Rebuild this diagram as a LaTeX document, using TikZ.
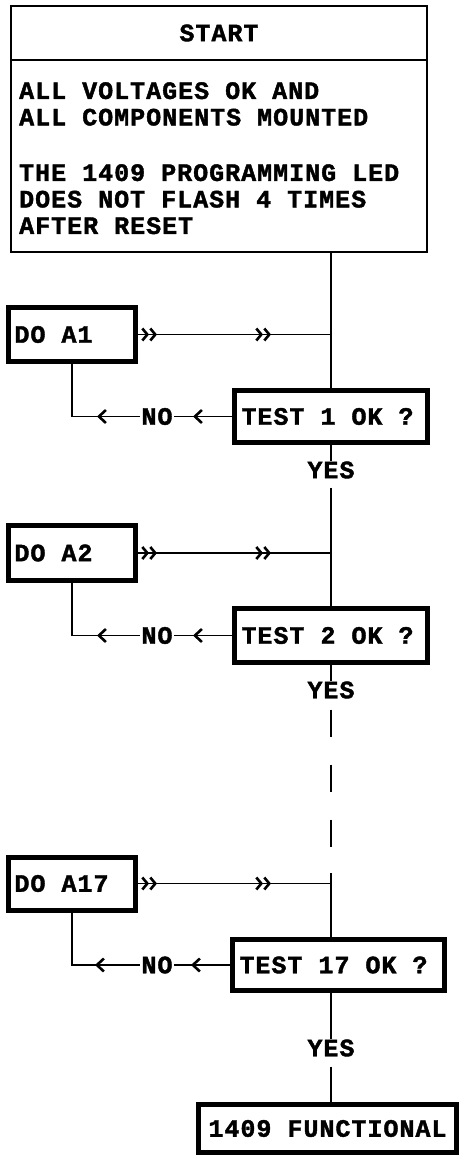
\documentclass[tikz,border=0pt]{standalone}
\usepackage{fontspec}
\setmainfont{Liberation Mono}[LetterSpace=4, BoldFeatures={FakeBold=1.6}]
\usetikzlibrary{arrows.meta,decorations.markings}
\tikzset{
  dchev/.tip={Straight Barb[length=5bp,width=12bp,line width=2.6bp] Straight Barb[length=5bp,width=12bp,line width=2.6bp]},
  schev/.tip={Straight Barb[length=7bp,width=13bp,line width=2.6bp]},
  lbl/.style={font=\fontsize{25bp}{26.5bp}\selectfont\bfseries, inner sep=0pt},
  thinbox/.style={draw, line width=2bp, inner sep=0pt, font=\fontsize{25bp}{26.5bp}\selectfont\bfseries},
  thickbox/.style={draw, line width=5bp, inner xsep=6bp, inner ysep=0pt, align=flush left,
                   font=\fontsize{25bp}{26.5bp}\selectfont\bfseries},
  trunk/.style={line width=2.6bp},
  feed/.style={line width=1.6bp, postaction={decorate},
    decoration={markings, mark=at position 19bp with {\arrow{dchev}},
                          mark=at position 133bp with {\arrow{dchev}}}},
  back/.style={line width=1.8bp, postaction={decorate},
    decoration={markings, mark=at position 39bp with {\arrow{schev}},
                          mark=at position 135bp with {\arrow{schev}}}},
  nolbl/.style={lbl, fill=white, inner xsep=1.5bp, inner ysep=1bp},
}
\begin{document}
\begin{tikzpicture}[x=1bp,y=-1bp]
\useasboundingbox (0,0) rectangle (460,1156);
\fill[white] (0,0) rectangle (460,1156);

% start box
\node[thinbox, minimum width=416bp, minimum height=54bp] (sh) at (219,33) {START};
\node[thinbox, minimum width=416bp, minimum height=192bp] (sb) at (219,156) {};
\node[lbl, anchor=north west, align=flush left] (sbt) at (19,82)
  {ALL VOLTAGES OK AND\\ALL COMPONENTS MOUNTED\\[29bp]THE 1409 PROGRAMMING LED\\DOES NOT FLASH 4 TIMES\\AFTER RESET};

% block 1
\node[thickbox, minimum width=127bp, minimum height=54bp, text width=115bp] (d1) at (72,334.5) {DO A1};
\node[thickbox, inner xsep=7bp, minimum width=193bp, minimum height=52bp, text width=179bp] (t1) at (331,416.5) {TEST 1 OK ?};
\node[lbl] (y1) at (331,470) {YES};

% block 2
\node[thickbox, minimum width=127bp, minimum height=55bp, text width=115bp] (d2) at (72,553) {DO A2};
\node[thickbox, inner xsep=7bp, minimum width=193bp, minimum height=54bp, text width=179bp] (t2) at (331,635.5) {TEST 2 OK ?};
\node[lbl] (y2) at (331,690) {YES};

% block 17
\coordinate (k17) at (331,873);
\node[thickbox, minimum width=127bp, minimum height=53bp, text width=115bp] (d17) at (72,883.5) {DO A17};
\node[thickbox, inner xsep=7bp, minimum width=212bp, minimum height=51bp, text width=198bp] (t17) at (338.5,965) {TEST 17 OK ?};
\node[lbl] (y17) at (331,1048) {YES};

\node[thickbox, align=flush center, minimum width=258bp, minimum height=48bp, text width=246bp] (f) at (327.5,1128.5) {1409 FUNCTIONAL};

% trunk
\draw[trunk] (sb.south -| t1.north) -- (t1.north);
\draw[trunk] (t1.south) -- (y1.north);
\draw[trunk, shorten <=9bp] (y1.south) -- (t2.north);
\draw[trunk] (t2.south) -- (y2.north);
\draw[trunk, dash pattern=on 27bp off 28bp, shorten <=11bp] (y2.south) -- (k17);
\draw[trunk] (k17) -- (k17 |- t17.north);
\draw[trunk] (y17 |- t17.south) -- (y17.north);
\draw[trunk, shorten <=10bp] (y17.south) -- (y17 |- f.north);

% feed lines
\draw[feed] (d1.east) -- (d1.east -| t1.north);
\draw[feed] (d2.east) -- (d2.east -| t2.north);
\draw[feed] (d17.east) -- (d17.east -| k17);

% NO lines
\draw[back] (t1.west) -- (t1.west -| d1.south) -- (d1.south);
\draw[back] (t2.west) -- (t2.west -| d2.south) -- (d2.south);
\draw[back] (t17.west) -- (t17.west -| d17.south) -- (d17.south);
\node[nolbl] (n1) at (157,416.5) {NO};
\node[nolbl] (n2) at (157,635.5) {NO};
\node[nolbl] (n17) at (157,965) {NO};
\end{tikzpicture}
\end{document}
